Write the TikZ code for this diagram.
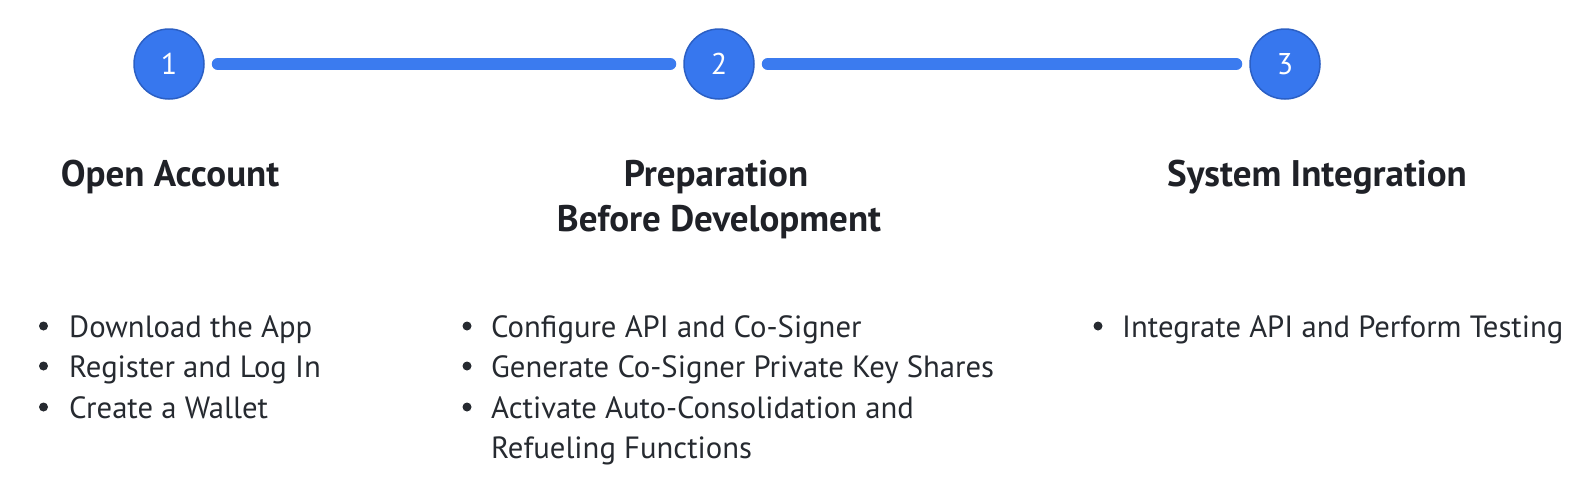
\documentclass[tikz,border=0pt]{standalone}
\usepackage{fontspec}
\setmainfont{PT Sans}
\definecolor{stepblue}{HTML}{3777EE}
\definecolor{stepedge}{HTML}{2B5FC4}
\definecolor{linkblue}{HTML}{3B7BEF}
\definecolor{headtxt}{HTML}{1F2127}
\definecolor{bodytxt}{HTML}{262A30}
\begin{document}
\begin{tikzpicture}[x=1pt,y=-1pt,
  stepcircle/.style={circle,minimum size=70pt,inner sep=0pt,fill=stepblue,draw=stepedge,line width=1.5pt,text=white,font=\fontsize{30pt}{34pt}\selectfont},
  linkline/.style={draw=linkblue,line width=12pt,line cap=round,shorten <=13pt,shorten >=13pt},
  headtext/.style={anchor=base,inner sep=0pt,text=headtxt,font=\bfseries\fontsize{37pt}{42pt}\selectfont},
  itemtext/.style={anchor=base west,inner sep=0pt,text=bodytxt,font=\fontsize{30.7pt}{35pt}\selectfont},
  dot/.style={fill=bodytxt}]
\useasboundingbox (0,0) rectangle (1585,496);
\node[stepcircle] (c1) at (169,64) {1};
\node[stepcircle] (c2) at (719,64) {2};
\node[stepcircle] (c3) at (1285,64) {3};
\draw[linkline] (c1) -- (c2);
\draw[linkline] (c2) -- (c3);
\node[headtext] (h1) at (170,186) {Open Account};
\node[headtext] (h2a) at (716,186) {Preparation};
\node[headtext] (h2b) at (719,231) {Before Development};
\node[headtext] (h3) at (1317,186) {System Integration};
% column 1
\node[itemtext] (a1) at (69,337) {Download the App};
\node[itemtext] (a2) at (69,377) {Register and Log In};
\node[itemtext] (a3) at (69,418) {Create a Wallet};
\foreach \y in {337,377,418} \fill[dot] (43.5,\y-11) circle (4.5pt);
% column 2
\node[itemtext] (b1) at (491,337) {Configure API and Co-Signer};
\node[itemtext] (b2) at (491,377) {Generate Co-Signer Private Key Shares};
\node[itemtext] (b3) at (491,418) {Activate Auto-Consolidation and};
\node[itemtext] (b4) at (491,458) {Refueling Functions};
\foreach \y in {337,377,418} \fill[dot] (467,\y-11) circle (4.5pt);
% column 3
\node[itemtext] (d1) at (1122,337) {Integrate API and Perform Testing};
\fill[dot] (1098,326) circle (4.5pt);
\end{tikzpicture}
\end{document}
